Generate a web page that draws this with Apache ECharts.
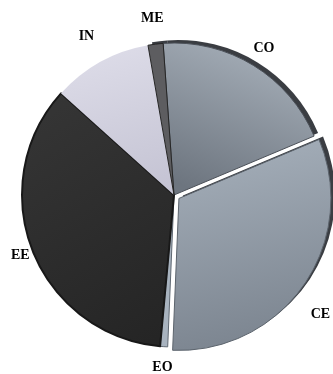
<!DOCTYPE html>
<html><head><meta charset="utf-8">
<script src="https://cdn.jsdelivr.net/npm/echarts@6/dist/echarts.min.js"></script>
<style>html,body{margin:0;padding:0;background:#fff}#c{width:333px;height:374px}</style>
</head><body><div id="c"></div>
<script>
// ---- data ----
const categories = ['CO', 'CE', 'EO', 'EE', 'IN', 'ME'];
const values = [19.8, 32.0, 0.8, 35.2, 10.6, 1.6];
const exploded = ['CE'];

// ---- styles ----
function grad(x, y, x2, y2, c1, c2) {
  return { type: 'linear', x: x, y: y, x2: x2, y2: y2,
    colorStops: [{ offset: 0, color: c1 }, { offset: 1, color: c2 }] };
}
const NONE = 'rgba(0,0,0,0)';
const styles = {
  CO: { fill: grad(0.3, 1, 0.7, 0, '#6d757f', '#a7b0ba'), border: '#4b5058', bw: 1, side: '#3a3d42', len: 20 },
  CE: { fill: grad(0.3, 0, 0.6, 1, '#a5afba', '#7a838e'), border: '#5c646d', bw: 1, side: '#3a3d42', len: 30 },
  EO: { fill: '#a8b3bf', border: '#5f6872', bw: 1, side: NONE, len: 21 },
  EE: { fill: grad(0, 0, 1, 1, '#363636', '#242424'), border: '#181818', bw: 2, side: NONE, len: 13 },
  IN: { fill: grad(0.2, 0, 0.6, 1, '#dedde9', '#c5c4d4'), border: NONE, bw: 0, side: NONE, len: 29 },
  ME: { fill: '#5d5d60', border: '#262626', bw: 1, side: '#3a3d42', len: 26 }
};
const labelNudge = { CE: [-8, 12] };

const CENTER = [174, 195];
const SIDE_CENTER = [178, 192];
const R = 152;

function mainItem(name, i) {
  const s = styles[name];
  const is = { color: s.fill, borderColor: s.border, borderWidth: s.bw };
  return {
    name: name, value: values[i], selected: exploded.indexOf(name) >= 0,
    itemStyle: is, select: { itemStyle: is },
    labelLine: { show: false, length: s.len, length2: 0 }
  };
}
function sideItem(name, i) {
  const s = styles[name];
  const is = { color: s.side, borderWidth: 0 };
  return {
    name: name, value: values[i], selected: exploded.indexOf(name) >= 0,
    itemStyle: is, select: { itemStyle: is }
  };
}

const chart = echarts.init(document.getElementById('c'), null, { renderer: 'canvas' });
chart.setOption({
  backgroundColor: '#ffffff',
  animation: false,
  series: [
    {
      type: 'pie', z: 1, silent: true,
      center: SIDE_CENTER, radius: R,
      startAngle: 94.1, clockwise: true,
      selectedMode: 'multiple', selectedOffset: 6,
      avoidLabelOverlap: false,
      label: { show: false }, labelLine: { show: false },
      emphasis: { disabled: true },
      data: categories.map(sideItem)
    },
    {
      type: 'pie', z: 2, silent: true,
      center: CENTER, radius: R,
      startAngle: 94.1, clockwise: true,
      selectedMode: 'multiple', selectedOffset: 6,
      avoidLabelOverlap: false,
      emphasis: { disabled: true },
      label: {
        show: true, position: 'outside', formatter: '{b}',
        color: '#000', fontFamily: 'Liberation Serif', fontWeight: 'bold', fontSize: 14,
        distanceToLabelLine: 0
      },
      labelLayout: function (p) {
        const n = labelNudge[categories[p.dataIndex]] || [0, 0];
        return { align: 'center', verticalAlign: 'middle', dx: n[0], dy: n[1] };
      },
      data: categories.map(mainItem)
    }
  ]
});
</script>
</body></html>
